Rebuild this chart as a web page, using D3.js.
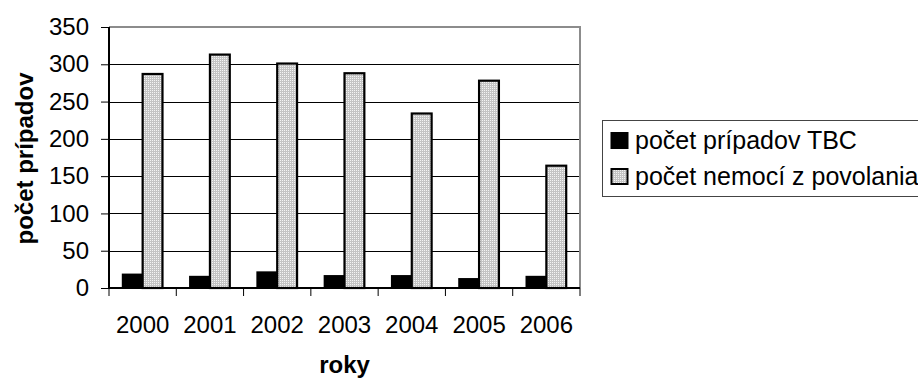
<!DOCTYPE html>
<html>
<head>
<meta charset="utf-8">
<script src="https://cdn.jsdelivr.net/npm/d3@7/dist/d3.min.js"></script>
<style>
  html, body { margin: 0; padding: 0; background: #fff; }
  svg { display: block; font-family: "Liberation Sans", Arial, sans-serif; }
</style>
</head>
<body>
<svg id="chart" width="918" height="378"></svg>
<script>
// Data
const years = ["2000", "2001", "2002", "2003", "2004", "2005", "2006"];
const tbcCases = [18, 15, 21, 16, 16, 12, 15];
const occupationalDiseases = [287, 313, 301, 288, 234, 278, 164];
const seriesNames = ["počet prípadov TBC", "počet nemocí z povolania"];
const yTicks = [0, 50, 100, 150, 200, 250, 300, 350];

const svg = d3.select("#chart");

// Dotted grey fill for the second series
const defs = svg.append("defs");
const pat = defs.append("pattern")
  .attr("id", "dots")
  .attr("width", 2).attr("height", 2)
  .attr("patternUnits", "userSpaceOnUse");
pat.append("rect").attr("width", 2).attr("height", 2).attr("fill", "#c4c4c4");
pat.append("rect").attr("width", 1).attr("height", 1).attr("fill", "#f4f4f4");

const plot = { left: 109, right: 580, top: 27, bottom: 288 };

const x = d3.scaleBand().domain(years).range([plot.left, plot.right]).paddingInner(0).paddingOuter(0);
const y = d3.scaleLinear().domain([0, 350]).range([plot.bottom, plot.top]);

const groupInset = 0.205; // fraction of band left empty on each side
const barW = x.bandwidth() * (1 - 2 * groupInset) / 2;

// Gridlines
svg.append("g").selectAll("line")
  .data(yTicks.filter(t => t > 0 && t < 350))
  .join("line")
  .attr("x1", plot.left).attr("x2", plot.right)
  .attr("y1", d => Math.round(y(d)) + 0.5).attr("y2", d => Math.round(y(d)) + 0.5)
  .attr("stroke", "#000").attr("stroke-width", 1);

// Plot frame (top and right in grey)
svg.append("path")
  .attr("d", `M${plot.left},${plot.top} H${plot.right} V${plot.bottom}`)
  .attr("fill", "none").attr("stroke", "#8c8c8c").attr("stroke-width", 2);

// Bars
const groups = svg.append("g").selectAll("g")
  .data(years.map((yr, i) => ({ yr, a: tbcCases[i], b: occupationalDiseases[i] })))
  .join("g");

groups.append("rect")
  .attr("x", d => x(d.yr) + x.bandwidth() * groupInset)
  .attr("y", d => y(d.a))
  .attr("width", barW)
  .attr("height", d => y(0) - y(d.a))
  .attr("fill", "#000").attr("stroke", "#000").attr("stroke-width", 2);

groups.append("rect")
  .attr("x", d => x(d.yr) + x.bandwidth() * groupInset + barW)
  .attr("y", d => y(d.b))
  .attr("width", barW)
  .attr("height", d => y(0) - y(d.b))
  .attr("fill", "url(#dots)").attr("stroke", "#000").attr("stroke-width", 2.2);

// Y axis
const yAxis = d3.axisLeft(y).tickValues(yTicks).tickSize(8).tickPadding(12);
const gy = svg.append("g").attr("transform", `translate(${plot.left},0)`).call(yAxis);
gy.select(".domain").attr("stroke", "#000").attr("stroke-width", 2).attr("d", `M0,${plot.top}V${plot.bottom}`);
gy.selectAll(".tick line").attr("stroke", "#000");
gy.selectAll(".tick text").attr("font-size", 24).attr("fill", "#000").attr("font-family", "Liberation Sans, Arial, sans-serif");

// X axis with ticks at category boundaries
const gx = svg.append("g").attr("transform", `translate(0,${plot.bottom})`);
gx.append("line").attr("x1", plot.left).attr("x2", plot.right).attr("stroke", "#000").attr("stroke-width", 2);
const boundaries = years.map(yr => x(yr)).concat([plot.right]);
gx.selectAll("line.tk").data(boundaries).join("line").attr("class", "tk")
  .attr("x1", d => d).attr("x2", d => d).attr("y1", 0).attr("y2", 8)
  .attr("stroke", "#000").attr("stroke-width", 1);
gx.selectAll("text").data(years).join("text")
  .attr("x", d => x(d) + x.bandwidth() / 2)
  .attr("y", 45)
  .attr("text-anchor", "middle")
  .attr("font-size", 24)
  .text(d => d);

// Axis titles
svg.append("text")
  .attr("transform", `translate(33,${(plot.top + plot.bottom) / 2 + 1}) rotate(-90)`)
  .attr("text-anchor", "middle")
  .attr("font-size", 24).attr("font-weight", "bold")
  .text("počet prípadov");

svg.append("text")
  .attr("x", (plot.left + plot.right) / 2).attr("y", 373)
  .attr("text-anchor", "middle")
  .attr("font-size", 24).attr("font-weight", "bold")
  .text("roky");

// Legend
const lg = svg.append("g").attr("transform", "translate(602,120)");
lg.append("rect").attr("x", 0.5).attr("y", 0.5).attr("width", 330).attr("height", 76)
  .attr("fill", "#fff").attr("stroke", "#444").attr("stroke-width", 1);
const fills = ["#000", "url(#dots)"];
seriesNames.forEach((name, i) => {
  const cy = 20 + i * 36;
  lg.append("rect").attr("x", 9.5).attr("y", cy - 7).attr("width", 16).attr("height", 15)
    .attr("fill", fills[i]).attr("stroke", "#000").attr("stroke-width", 2);
  lg.append("text").attr("x", 33).attr("y", cy + 8.5)
    .attr("font-size", 25).text(name);
});
</script>
</body>
</html>
